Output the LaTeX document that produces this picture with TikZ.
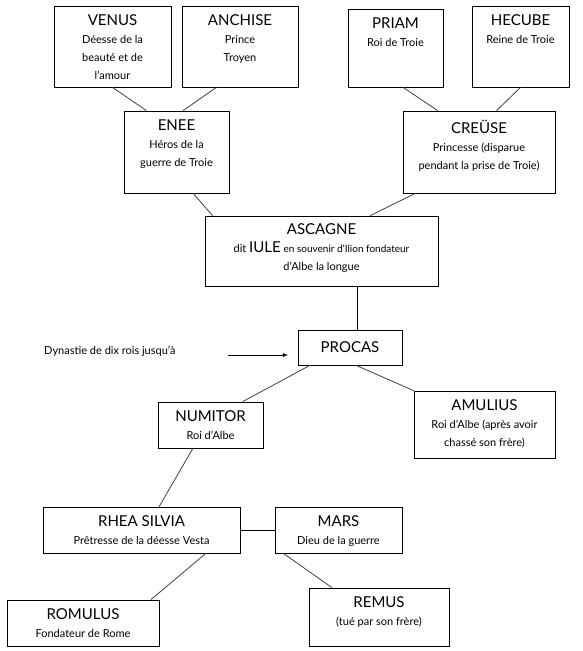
\documentclass[tikz,border=0pt]{standalone}
\usepackage{fontspec}
\setmainfont{Lato}
\usepackage{tikz}
\usetikzlibrary{arrows,positioning}
\tikzset{boite/.style={rectangle,draw=black,line width=0.8pt,inner sep=0pt}}
\tikzset{texte/.style={align=center,inner sep=0pt,font=\fontsize{11}{18}\selectfont}}
\tikzset{lien/.style={draw=black!75,line width=0.8pt}}
\newcommand{\nom}[1]{{\fontsize{15}{18}\selectfont #1}}

\begin{document}
\begin{tikzpicture}[x=1pt,y=-1pt]
  \useasboundingbox (0,0) rectangle (582,651);
  % premiere generation
  \node[boite,minimum width=117pt,minimum height=81pt] (venus) at (112.5,46.5) {};
  \node[boite,minimum width=116pt,minimum height=81pt] (anchise) at (240,46.5) {};
  \node[boite,minimum width=95pt,minimum height=78pt] (priam) at (395.5,48) {};
  \node[boite,minimum width=97pt,minimum height=81pt] (hecube) at (520.5,46.5) {};
  \node[texte,below=9pt of venus.north] (venus-t) {\nom{VENUS}\\Déesse de la\\beauté et de\\l’amour};
  \node[texte,below=9pt of anchise.north] (anchise-t) {\nom{ANCHISE}\\Prince\\Troyen};
  \node[texte,below=9pt of priam.north] (priam-t) {\nom{PRIAM}\\Roi de Troie};
  \node[texte,below=9pt of hecube.north] (hecube-t) {\nom{HECUBE}\\Reine de Troie};
  % enee et creuse
  \node[boite,minimum width=105pt,minimum height=82pt] (enee) at (176.5,152) {};
  \node[boite,minimum width=152pt,minimum height=82pt] (creuse) at (479,152) {};
  \node[texte,below=9pt of enee.north] (enee-t) {\nom{ENEE}\\Héros de la\\guerre de Troie};
  \node[texte,below=9pt of creuse.north] (creuse-t) {\nom{CREÜSE}\\Princesse (disparue\\pendant la prise de Troie)};
  % ascagne et procas
  \node[boite,minimum width=233pt,minimum height=70pt] (ascagne) at (321.5,251) {};
  \node[texte,below=8pt of ascagne.north] (ascagne-t) {\nom{ASCAGNE}\\dit \nom{IULE} {\fontsize{10}{18}\selectfont en souvenir d’Ilion fondateur}\\d’Albe la longue};
  \node[boite,minimum width=104pt,minimum height=35pt] (procas) at (350,347.5) {\nom{PROCAS}};
  \node[texte,anchor=west] (dynastie) at (44,351) {Dynastie de dix rois jusqu’à};
  \coordinate (debut) at (228,355);
  \coordinate (fin) at (288,355);
  % numitor et amulius
  \node[boite,minimum width=105pt,minimum height=46pt] (numitor) at (210.5,425) {};
  \node[boite,minimum width=141pt,minimum height=67pt] (amulius) at (484.5,424.5) {};
  \node[texte,below=9pt of numitor.north] (numitor-t) {\nom{NUMITOR}\\Roi d’Albe};
  \node[texte,below=9pt of amulius.north] (amulius-t) {\nom{AMULIUS}\\Roi d’Albe (après avoir\\chassé son frère)};
  % rhea silvia et mars
  \node[boite,minimum width=197pt,minimum height=46pt] (rhea) at (141.5,530) {};
  \node[boite,minimum width=127pt,minimum height=46pt] (mars) at (338.5,530) {};
  \node[texte,below=9pt of rhea.north] (rhea-t) {\nom{RHEA SILVIA}\\Prêtresse de la déesse Vesta};
  \node[texte,below=9pt of mars.north] (mars-t) {\nom{MARS}\\Dieu de la guerre};
  % romulus et remus
  \node[boite,minimum width=152pt,minimum height=46pt] (romulus) at (83,623) {};
  \node[boite,minimum width=140pt,minimum height=58pt] (remus) at (379,617) {};
  \node[texte,below=9pt of romulus.north] (romulus-t) {\nom{ROMULUS}\\Fondateur de Rome};
  \node[texte,below=9pt of remus.north] (remus-t) {\nom{REMUS}\\(tué par son frère)};
  \draw[lien] (venus.south) -- (enee.126)
              (anchise.240) -- (enee.81)
              (priam.281) -- (creuse.135)
              (hecube.south) -- (creuse.67)
              (enee.292) -- (ascagne.162)
              (creuse.213) -- (ascagne.36)
              (procas.204) -- (numitor.36)
              (procas.289) -- (amulius.north west)
              (numitor.233) -- (rhea.53)
              (rhea.340) -- (romulus.19)
              (mars.203) -- (remus.148);
  \draw[line width=0.8pt] (ascagne.315) -- (ascagne.315 |- procas.north)
                          (rhea.east) -- (mars.west);
  \draw[-latex,line width=0.8pt] (debut) -- (fin);
\end{tikzpicture}
\end{document}
